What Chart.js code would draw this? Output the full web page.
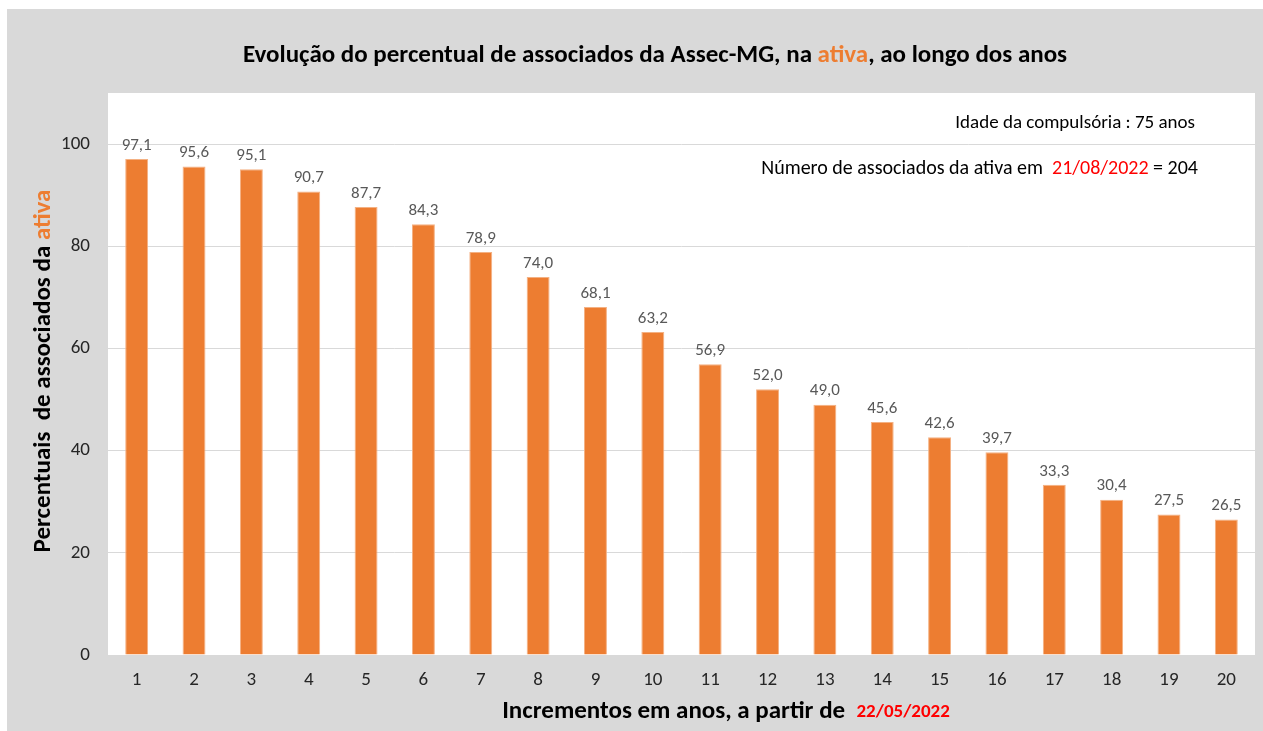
<!DOCTYPE html>
<html>
<head>
<meta charset="utf-8">
<script src="https://cdn.jsdelivr.net/npm/chart.js@4/dist/chart.umd.min.js"></script>
<style>
  body { margin: 0 ; background: #fff ; }
  #box { position: absolute ; left: 7px ; top: 9px ; width: 1256px ; height: 722px ; background: #d9d9d9 ; }
</style>
</head>
<body>
<div id="box"><canvas id="myChart" width="1256" height="722"></canvas></div>
<script>
'use strict' ;

// data
const anos = ['1','2','3','4','5','6','7','8','9','10','11','12','13','14','15','16','17','18','19','20'] ;
const percentuais = [97.1,95.6,95.1,90.7,87.7,84.3,78.9,74.0,68.1,63.2,56.9,52.0,49.0,45.6,42.6,39.7,33.3,30.4,27.5,26.5] ;
const yTicks = [0,20,40,60,80,100] ;

const tituloA = 'Evolução do percentual de associados da Assec-MG, na ' ;
const tituloB = 'ativa' ;
const tituloC = ', ao longo dos anos' ;
const eixoYA = 'Percentuais  de associados da ' ;
const eixoYB = 'ativa' ;
const eixoXA = 'Incrementos em anos, a partir de' ;
const eixoXB = '22/05/2022' ;
const nota1 = 'Idade da compulsória : 75 anos' ;
const nota2A = 'Número de associados da ativa em ' ;
const nota2B = ' 21/08/2022' ;
const nota2C = ' = 204' ;

const FONT = 'Carlito, Lato, "Open Sans", sans-serif' ;
const ORANGE = '#ed7d31' ;
const RED = '#ff0000' ;

// draws several coloured pieces on one line
function pieces (ctx, parts, x, y, align)
{
  let total = 0 ;
  for (let i = 0 ; i < parts.length ; i++) {
    ctx.font = parts[i].font ;
    parts[i].w = ctx.measureText(parts[i].text).width ;
    total += parts[i].w ;
  }
  let cx = x ;
  if (align === 'center') cx = x - total / 2 ;
  if (align === 'right') cx = x - total ;
  ctx.textAlign = 'left' ;
  ctx.textBaseline = 'middle' ;
  for (let i = 0 ; i < parts.length ; i++) {
    ctx.font = parts[i].font ;
    ctx.fillStyle = parts[i].color ;
    ctx.fillText(parts[i].text, cx, y) ;
    cx += parts[i].w ;
  }
}

const fundo = {
  id: 'fundo',
  beforeDraw (chart) {
    const a = chart.chartArea ;
    const ctx = chart.ctx ;
    ctx.save() ;
    ctx.fillStyle = '#ffffff' ;
    ctx.fillRect(a.left, a.top, a.right - a.left, a.bottom - a.top) ;
    ctx.restore() ;
  }
} ;

const textos = {
  id: 'textos',
  afterDraw (chart) {
    const ctx = chart.ctx ;
    const a = chart.chartArea ;
    ctx.save() ;

    // title
    const tb = 'bold 25px ' + FONT ;
    pieces(ctx, [
      { text: tituloA, font: tb, color: '#000' },
      { text: tituloB, font: tb, color: ORANGE },
      { text: tituloC, font: tb, color: '#000' }
    ], 648, 47, 'center') ;

    // x title
    pieces(ctx, [
      { text: eixoXA + '  ', font: 'bold 25px ' + FONT, color: '#000' },
      { text: eixoXB, font: 'bold 19px ' + FONT, color: RED }
    ], 719, 703, 'center') ;

    // y title, rotated
    ctx.save() ;
    ctx.translate(37, (a.top + a.bottom) / 2 - 3) ;
    ctx.rotate(-Math.PI / 2) ;
    pieces(ctx, [
      { text: eixoYA, font: 'bold 25px ' + FONT, color: '#000' },
      { text: eixoYB, font: 'bold 25px ' + FONT, color: ORANGE }
    ], 0, 0, 'center') ;
    ctx.restore() ;

    // notes top right
    pieces(ctx, [{ text: nota1, font: '19px ' + FONT, color: '#000' }], 1188, 114, 'right') ;
    const nf = '20px ' + FONT ;
    pieces(ctx, [
      { text: nota2A, font: nf, color: '#000' },
      { text: nota2B, font: nf, color: RED },
      { text: nota2C, font: nf, color: '#000' }
    ], 1191, 160, 'right') ;

    // value labels over bars
    const meta = chart.getDatasetMeta(0) ;
    ctx.font = '17px ' + FONT ;
    ctx.fillStyle = '#595959' ;
    ctx.textAlign = 'center' ;
    ctx.textBaseline = 'bottom' ;
    meta.data.forEach(function (bar, i) {
      ctx.fillText(percentuais[i].toFixed(1).replace('.', ','), bar.x, bar.y - 5) ;
    }) ;
    ctx.restore() ;
  }
} ;

let ctx = document.getElementById('myChart').getContext('2d') ;
let myChart = new Chart(ctx, {
  type: 'bar',
  data: {
    labels: anos,
    datasets: [{
      data: percentuais,
      backgroundColor: ORANGE,
      borderColor: '#f4b183',
      borderWidth: 1,
      barPercentage: 0.4,
      categoryPercentage: 1
    }]
  },
  options: {
    responsive: false,
    animation: false,
    layout: { padding: { top: 84, right: 8, left: 0, bottom: 0 } },
    plugins: {
      legend: { display: false },
      title: { display: false },
      tooltip: { enabled: false }
    },
    scales: {
      x: {
        grid: { display: false, drawTicks: false },
        border: { display: false },
        ticks: { color: '#262626', font: { family: FONT, size: 19 }, padding: 14, maxRotation: 0 },
        afterFit (scale) { scale.height = 76 ; }
      },
      y: {
        min: 0,
        max: 110,
        afterBuildTicks (scale) {
          scale.ticks = yTicks.map(function (v) { return { value: v } ; }) ;
        },
        grid: { color: '#d9d9d9', drawTicks: false },
        border: { display: false },
        ticks: { color: '#262626', font: { family: FONT, size: 19 }, padding: 18 },
        afterFit (scale) { scale.width = 101 ; }
      }
    }
  },
  plugins: [fundo, textos]
}) ;
</script>
</body>
</html>
